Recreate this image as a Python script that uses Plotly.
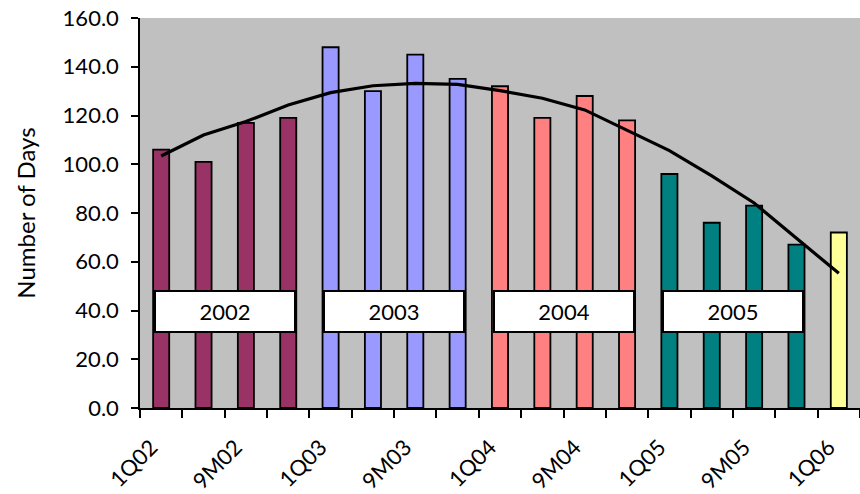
import plotly.graph_objects as go

periods = ["1Q02", "1H02", "9M02", "FY02",
           "1Q03", "1H03", "9M03", "FY03",
           "1Q04", "1H04", "9M04", "FY04",
           "1Q05", "1H05", "9M05", "FY05",
           "1Q06"]
days = [106, 101, 117, 119,
        148, 130, 145, 135,
        132, 119, 128, 118,
        96, 76, 83, 67,
        72]
# trend curve, one value per period
trend_days = [103.4, 112.0, 117.5, 124.3,
              129.4, 132.2, 133.2, 132.8,
              130.2, 127.1, 122.3, 114.0,
              105.6, 95.2, 84.1, 69.6,
              55.3]
years = ["2002", "2003", "2004", "2005"]
year_colors = {"2002": "#993366", "2003": "#9999FF", "2004": "#FF8080",
               "2005": "#008080", "2006": "#FFFF99"}

bar_colors = [year_colors["20" + p[-2:]] for p in periods]

font_family = "Lato, 'DejaVu Sans', sans-serif"

fig = go.Figure()
fig.add_bar(x=periods, y=days, width=0.38,
            marker=dict(color=bar_colors, line=dict(color="black", width=1.8)),
            showlegend=False)
fig.add_scatter(x=periods, y=trend_days, mode="lines",
                line=dict(color="black", width=3.2, shape="linear"),
                showlegend=False)

for i, yr in enumerate(years):
    fig.add_annotation(x=4 * i + 1.5, y=39.5, xref="x", yref="y",
                       text=yr, showarrow=False,
                       font=dict(size=22, color="black", family=font_family),
                       bgcolor="white", bordercolor="black", borderwidth=2,
                       borderpad=2, width=134, height=35)

ticktext = [p if i % 2 == 0 else "" for i, p in enumerate(periods)]

fig.update_layout(
    width=860, height=494,
    margin=dict(l=140, r=0, t=18, b=86),
    paper_bgcolor="white", plot_bgcolor="#C0C0C0",
    font=dict(family=font_family, size=22, color="black"),
    xaxis=dict(type="category", tickmode="array", tickvals=periods,
               ticktext=ticktext, tickangle=-45, tickson="boundaries",
               ticks="outside", ticklen=8, tickwidth=1.5, tickcolor="black",
               showline=True, linecolor="black", linewidth=1.5,
               showgrid=False, range=[-0.5, 16.5],
               ticklabelstandoff=16, ticklabelshift=-10,
               tickfont=dict(size=22)),
    yaxis=dict(range=[0, 160], tickmode="linear", tick0=0, dtick=20,
               tickformat=".1f", ticks="outside", ticklen=7, tickwidth=1.5,
               tickcolor="black", showline=True, linecolor="black",
               linewidth=1.5, showgrid=False, zeroline=False,
               ticklabelstandoff=8,
               title=dict(text="Number of Days", font=dict(size=24), standoff=20),
               tickfont=dict(size=22)),
)

fig.write_html("out.html")
